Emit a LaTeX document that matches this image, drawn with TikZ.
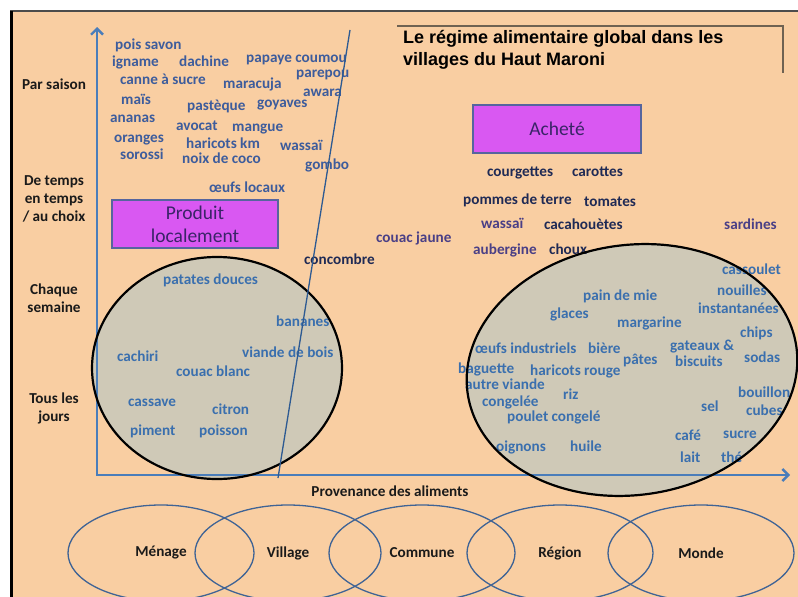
\documentclass[tikz,border=0pt]{standalone}
\usepackage{fontspec}
\setmainfont{Carlito}
\newfontfamily\titlefont{Liberation Sans}
\usetikzlibrary{arrows.meta, shapes.geometric}

\begin{document}
\begin{tikzpicture}[x=1pt, y=-1pt,
    food/.style={anchor=west, inner sep=0pt, text height=10pt, text depth=3pt,
                 font=\bfseries\fontsize{15.2}{17}\selectfont},
    localfood/.style={food, text=localblue},
    innerfood/.style={food, text=innerblue},
    boughtfood/.style={food, text=boughtnavy},
    freq/.style={inner sep=0pt, align=center, text=labelblack,
                 font=\bfseries\fontsize{15.2}{18}\selectfont},
    catbox/.style={rectangle, draw=boxedge, line width=1.2pt, fill=catmagenta,
                   text=boxtext, align=center, inner sep=0pt,
                   minimum width=166pt, minimum height=48pt,
                   font=\fontsize{19.5}{23}\selectfont},
    ring/.style={ellipse, draw=ringblue, line width=1.3pt, inner sep=0pt,
                 minimum width=186pt, minimum height=96pt, text=labelblack,
                 font=\bfseries\fontsize{15.2}{17}\selectfont},
    axis/.style={line width=2.4pt, axisblue,
                 {Straight Barb[length=6pt, width=12pt]}-{Straight Barb[length=6pt, width=12pt]}},
    blobedge/.style={line width=2.2pt, black},
    sepline/.style={line width=1.3pt, sepblue}
]
% Farben nach der Folie: Pfirsich-Hintergrund, graue Mengen,
% Blau fuer lokal, Marine fuer gekaufte Lebensmittel.
\definecolor{peach}{HTML}{F9CEA2}
\definecolor{blobgrey}{HTML}{CFC9B7}
\definecolor{localblue}{HTML}{3D5C9C}
\definecolor{innerblue}{HTML}{3A6FAE}
\definecolor{boughtnavy}{HTML}{1F2A55}
\definecolor{boughtpurple}{HTML}{4A3F86}
\definecolor{labelblack}{HTML}{1A1A1A}
\definecolor{axisblue}{HTML}{4A7DBA}
\definecolor{sepblue}{HTML}{2D5A92}
\definecolor{ringblue}{HTML}{3F6395}
\definecolor{catmagenta}{HTML}{D958F2}
\definecolor{boxedge}{HTML}{56659E}
\definecolor{boxtext}{HTML}{3A2468}
\definecolor{frameline}{HTML}{6F6252}

\useasboundingbox (0,0) rectangle (798,597);
\fill[white] (0,0) rectangle (798,597);
\fill[peach] (10,11) rectangle (798,597);
\draw[line width=1.5pt, black!70] (10,11) -- (798,11);
\draw[line width=3pt, black] (11.5,11) -- (11.5,597);

% Mengen "lokal" und "gekauft"
\coordinate (lokalmitte) at (217,368);
\coordinate (kaufmitte) at (632,370);
\fill[blobgrey] (lokalmitte) ellipse [x radius=125, y radius=111];
\fill[blobgrey, rotate around={8:(kaufmitte)}] (kaufmitte) ellipse [x radius=166, y radius=125];

% Achsen
\coordinate (ytop) at (97,27);
\coordinate (origin) at (97,475);
\coordinate (xend) at (790,475);
\draw[axis] (ytop) -- (origin) -- (xend);

% Haeufigkeit
\node[freq] (saison) at (54,84) {Par saison};
\node[freq] (temps) at (54,199) {De temps\\en temps\\/ au choix};
\node[freq] (semaine) at (54,298) {Chaque\\semaine};
\node[freq] (jours) at (54,408) {Tous les\\jours};

% lokal, saisonal
\node[localfood] (poissavon) at (115,46) {pois savon};
\node[localfood] (igname) at (112,63) {igname};
\node[localfood] (dachine) at (179,63) {dachine};
\node[localfood] (papaye) at (246,59) {papaye coumou};
\node[localfood] (parepou) at (296,74) {parepou};
\node[localfood] (canne) at (120,81) {canne à sucre};
\node[localfood] (maracuja) at (223,85) {maracuja};
\node[localfood] (awara) at (303,93) {awara};
\node[localfood] (mais) at (121,101) {maïs};
\node[localfood] (pasteque) at (187,107) {pastèque};
\node[localfood] (goyaves) at (257,104) {goyaves};
\node[localfood] (ananas) at (110,119) {ananas};
\node[localfood] (avocat) at (176,127) {avocat};
\node[localfood] (mangue) at (232,128) {mangue};
\node[localfood] (oranges) at (114,139) {oranges};
\node[localfood] (haricotskm) at (186,145) {haricots km};
\node[localfood] (wassailokal) at (280,147) {wassaï};
\node[localfood] (sorossi) at (120,156) {sorossi};
\node[localfood] (noixcoco) at (182,160) {noix de coco};
\node[localfood] (gombo) at (305,166) {gombo};
\node[localfood] (oeufslocaux) at (209,189) {œufs locaux};

% lokal, taeglich
\node[innerfood] (patates) at (163,281) {patates douces};
\node[innerfood] (bananes) at (276,323) {bananes};
\node[innerfood] (viande) at (242,354) {viande de bois};
\node[innerfood] (cachiri) at (117,358) {cachiri};
\node[innerfood] (couacblanc) at (176,373) {couac blanc};
\node[innerfood] (cassave) at (128,403) {cassave};
\node[innerfood] (citron) at (212,411) {citron};
\node[innerfood] (piment) at (130,432) {piment};
\node[innerfood] (poisson) at (199,432) {poisson};

% gekauft, ab und zu
\node[boughtfood] (courgettes) at (487,173) {courgettes};
\node[boughtfood] (carottes) at (572,173) {carottes};
\node[boughtfood] (pommes) at (463,201) {pommes de terre};
\node[boughtfood] (tomates) at (584,203) {tomates};
\node[food, text=boughtpurple] (wassaikauf) at (481,225) {wassaï};
\node[boughtfood] (cacahouetes) at (544,226) {cacahouètes};
\node[food, text=boughtpurple] (sardines) at (724,226) {sardines};
\node[food, text=boughtpurple] (aubergine) at (473,251) {aubergine};
\node[boughtfood] (choux) at (549,251) {choux};
\node[food, text=boughtpurple] (couacjaune) at (376,239) {couac jaune};
\node[boughtfood] (concombre) at (304,261) {concombre};

% gekauft, taeglich
\node[innerfood] (cassoulet) at (722,271) {cassoulet};
\node[innerfood] (nouilles) at (717,292) {nouilles};
\node[innerfood] (instant) at (698,310) {instantanées};
\node[innerfood] (paindemie) at (583,297) {pain de mie};
\node[innerfood] (glaces) at (550,315) {glaces};
\node[innerfood] (margarine) at (617,324) {margarine};
\node[innerfood] (chips) at (740,334) {chips};
\node[innerfood] (gateaux) at (670,347) {gateaux \&};
\node[innerfood] (oeufsindus) at (475,350) {œufs industriels};
\node[innerfood] (biere) at (588,350) {bière};
\node[innerfood] (pates) at (623,361) {pâtes};
\node[innerfood] (sodas) at (744,359) {sodas};
\node[innerfood] (biscuits) at (675,363) {biscuits};
\node[innerfood] (baguette) at (458,370) {baguette};
\node[innerfood] (haricotsrouge) at (530,372) {haricots rouge};
\node[innerfood] (autreviande) at (465,386) {autre viande};
\node[innerfood] (riz) at (563,396) {riz};
\node[innerfood] (bouillon) at (738,394) {bouillon};
\node[innerfood] (congelee) at (482,403) {congelée};
\node[innerfood] (sel) at (701,408) {sel};
\node[innerfood] (cubes) at (746,412) {cubes};
\node[innerfood] (poulet) at (507,418) {poulet congelé};
\node[innerfood] (sucre) at (723,435) {sucre};
\node[innerfood] (cafe) at (675,437) {café};
\node[innerfood] (oignons) at (496,448) {oignons};
\node[innerfood] (huile) at (570,448) {huile};
\node[innerfood] (lait) at (680,459) {lait};
\node[innerfood] (the) at (721,459) {thé};

\draw[blobedge] (lokalmitte) ellipse [x radius=125, y radius=111];
\draw[blobedge, rotate around={8:(kaufmitte)}] (kaufmitte) ellipse [x radius=166, y radius=125];

\coordinate (sepfoot) at (278,478);
\coordinate (sephead) at (350,30);
\draw[sepline] (sepfoot) -- (sephead);

% Titel und Kategorien
\draw[line width=1.2pt, frameline] (397,26) -- (783,26) -- (783,73);
\node[anchor=west, inner sep=0pt, align=left,
      font=\titlefont\bfseries\fontsize{18}{22}\selectfont] (titel) at (403,50)
      {Le régime alimentaire global dans les\\villages du Haut Maroni};
\node[catbox] (produit) at (195,224) {Produit\\localement};
\node[catbox, minimum width=168pt] (achete) at (557,129) {Acheté};

% Herkunft
\node[freq] (provenance) at (390,491) {Provenance des aliments};
\node[ring] (menage) at (161,553) {Ménage};
\node[ring] (village) at (288,553) {Village};
\node[ring] (commune) at (422,553) {Commune};
\node[ring] (region) at (560,553) {Région};
\node[ring] (monde) at (701,553) {Monde};
\end{tikzpicture}
\end{document}
